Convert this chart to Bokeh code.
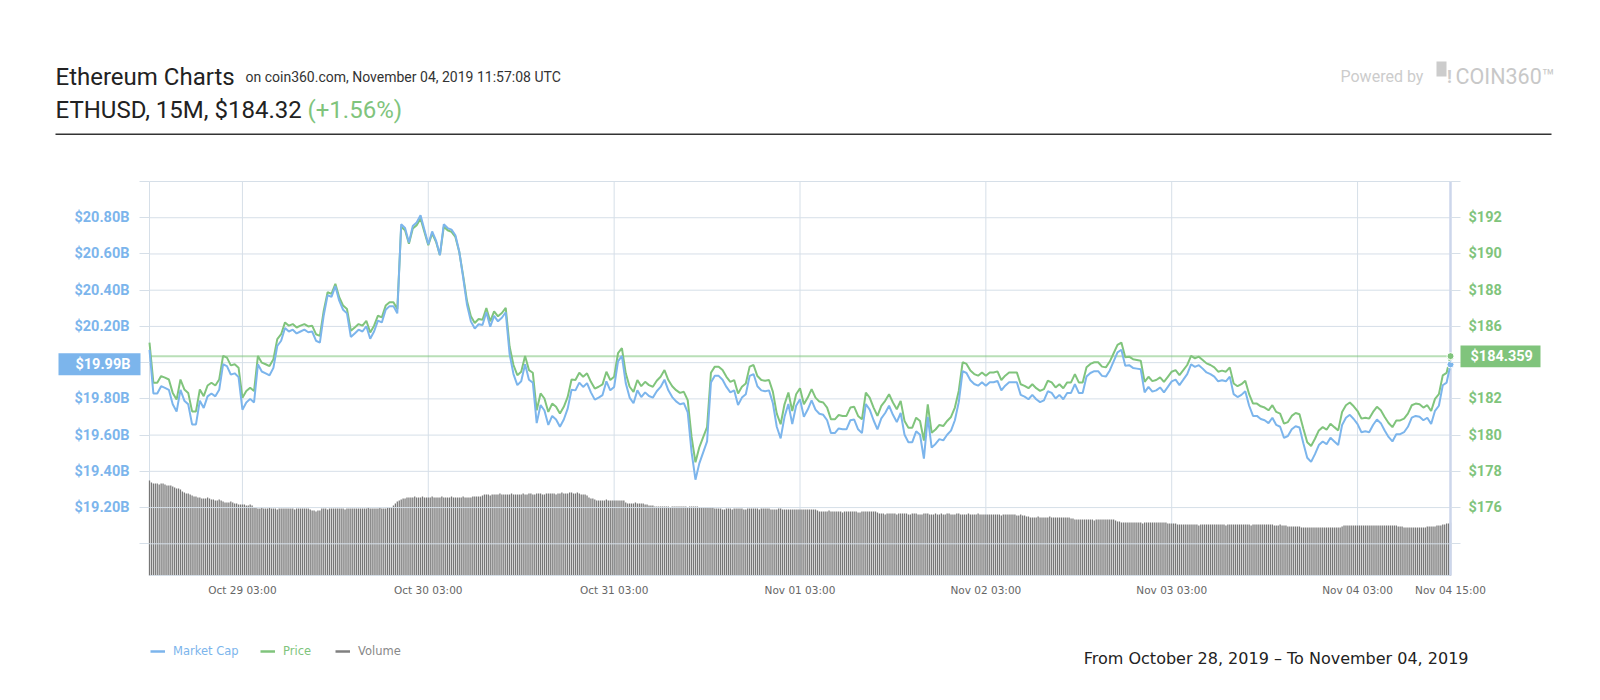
import pandas as pd
from bokeh.plotting import figure
from bokeh.models import (Range1d, LinearAxis, FixedTicker, CustomJSTickFormatter,
                          Label, Legend, LegendItem, BoxAnnotation)
from bokeh.embed import file_html
from bokeh.resources import INLINE

# ---------------- data ----------------
start_time = "2019-10-28 15:00"
end_time = "2019-11-04 15:00"

# price every 30 minutes, USD (right axis)
price = [
    185.11, 182.89, 182.89, 183.26, 183.17, 183.07, 182.33, 181.96, 183.07, 182.52, 182.33, 181.31,
    181.31, 182.52, 182.15, 182.74, 182.89, 182.74, 183.07, 184.37, 184.28, 183.85, 183.91, 183.72,
    182.06, 182.43, 182.61, 182.43, 184.37, 184.00, 183.91, 183.81, 184.19, 185.30, 185.57, 186.22,
    186.04, 186.13, 185.94, 186.04, 186.13, 186.00, 186.04, 185.57, 185.48, 186.87, 187.89, 187.80,
    188.35, 187.61, 187.15, 186.96, 185.76, 185.94, 186.13, 186.04, 186.31, 185.67, 186.04, 186.59,
    186.50, 187.15, 187.33, 187.33, 186.96, 191.50, 191.31, 190.57, 191.41, 191.59, 191.96, 191.22,
    190.48, 191.13, 190.67, 189.93, 191.50, 191.31, 191.22, 190.94, 190.11, 188.80, 187.40, 186.56,
    186.19, 186.41, 186.37, 187.02, 186.28, 186.83, 186.56, 186.74, 187.02, 184.89, 183.87, 183.31,
    183.50, 184.37, 183.59, 183.44, 181.37, 182.30, 182.02, 181.28, 181.74, 181.56, 181.19, 181.56,
    182.11, 183.07, 183.04, 183.44, 183.22, 183.41, 182.94, 182.57, 182.67, 182.80, 183.50, 183.04,
    183.22, 184.52, 184.80, 183.41, 182.67, 182.39, 183.04, 182.70, 182.94, 182.76, 182.67, 183.00,
    183.22, 183.59, 183.04, 182.70, 182.48, 182.33, 182.39, 181.93, 179.90, 178.50, 179.33, 179.89,
    180.44, 183.44, 183.78, 183.78, 183.59, 183.22, 182.94, 183.04, 182.30, 182.67, 182.85, 183.78,
    183.87, 183.26, 183.04, 183.00, 183.04, 182.39, 181.19, 180.60, 181.70, 182.35, 181.33, 182.26,
    182.59, 181.70, 182.07, 182.54, 182.07, 181.85, 181.80, 181.52, 180.87, 180.87, 181.11, 181.06,
    181.06, 181.52, 181.56, 181.06, 180.87, 182.35, 182.07, 181.52, 181.06, 181.61, 181.89, 182.26,
    181.80, 181.43, 181.89, 180.78, 180.41, 180.41, 180.96, 180.78, 179.70, 181.70, 180.13, 180.31,
    180.56, 180.50, 180.78, 181.00, 181.52, 182.44, 184.02, 183.93, 183.56, 183.37, 183.28, 183.46,
    183.28, 183.46, 183.46, 183.52, 183.04, 183.28, 183.46, 183.46, 183.46, 182.81, 182.72, 182.59,
    182.81, 182.59, 182.44, 182.54, 183.00, 182.91, 182.63, 182.81, 182.59, 182.91, 182.91, 183.37,
    182.91, 182.91, 183.74, 183.93, 184.02, 184.02, 183.78, 183.74, 184.06, 184.52, 184.98, 185.11,
    184.30, 184.33, 184.19, 184.15, 184.11, 182.94, 183.22, 182.98, 183.04, 183.19, 182.94, 183.22,
    183.50, 183.59, 183.31, 183.59, 183.87, 184.37, 184.24, 184.33, 184.15, 183.96, 183.87, 183.74,
    183.50, 183.56, 183.50, 183.74, 182.85, 182.70, 182.81, 183.00, 182.26, 181.74, 181.74, 181.59,
    181.52, 181.37, 181.65, 181.28, 181.19, 180.63, 180.72, 181.06, 181.22, 181.15, 180.35, 179.61,
    179.40, 179.80, 180.26, 180.44, 180.30, 180.63, 180.44, 180.26, 181.28, 181.65, 181.80, 181.59,
    181.33, 180.91, 180.96, 180.91, 181.28, 181.56, 181.37, 181.00, 180.67, 180.44, 180.81, 180.81,
    180.91, 181.19, 181.65, 181.74, 181.70, 181.52, 181.65, 181.33, 182.00, 182.26, 183.30, 183.44,
    184.36,
]

# market cap every 30 minutes, billions USD (left axis)
market_cap = [
    20.071, 19.830, 19.830, 19.870, 19.861, 19.850, 19.770, 19.730, 19.850, 19.790, 19.770, 19.659,
    19.659, 19.790, 19.750, 19.814, 19.830, 19.814, 19.850, 19.991, 19.981, 19.934, 19.941, 19.920,
    19.740, 19.780, 19.800, 19.780, 19.991, 19.951, 19.941, 19.930, 19.971, 20.092, 20.121, 20.191,
    20.172, 20.182, 20.161, 20.172, 20.182, 20.168, 20.172, 20.121, 20.111, 20.262, 20.373, 20.363,
    20.422, 20.342, 20.292, 20.272, 20.142, 20.161, 20.182, 20.172, 20.201, 20.132, 20.172, 20.232,
    20.222, 20.292, 20.312, 20.312, 20.272, 20.764, 20.743, 20.663, 20.754, 20.774, 20.814, 20.734,
    20.653, 20.724, 20.674, 20.594, 20.764, 20.743, 20.734, 20.703, 20.613, 20.471, 20.319, 20.228,
    20.188, 20.212, 20.208, 20.278, 20.198, 20.258, 20.228, 20.248, 20.278, 20.047, 19.937, 19.876,
    19.897, 19.991, 19.906, 19.890, 19.666, 19.766, 19.736, 19.656, 19.706, 19.686, 19.646, 19.686,
    19.746, 19.850, 19.847, 19.890, 19.866, 19.887, 19.836, 19.796, 19.807, 19.821, 19.897, 19.847,
    19.866, 20.007, 20.037, 19.887, 19.807, 19.776, 19.847, 19.810, 19.836, 19.816, 19.807, 19.842,
    19.866, 19.906, 19.847, 19.810, 19.786, 19.770, 19.776, 19.726, 19.506, 19.354, 19.444, 19.505,
    19.565, 19.890, 19.927, 19.927, 19.906, 19.866, 19.836, 19.847, 19.766, 19.807, 19.826, 19.927,
    19.937, 19.870, 19.847, 19.842, 19.847, 19.776, 19.646, 19.582, 19.701, 19.772, 19.661, 19.762,
    19.798, 19.701, 19.741, 19.792, 19.741, 19.718, 19.712, 19.682, 19.611, 19.611, 19.637, 19.632,
    19.632, 19.682, 19.686, 19.632, 19.611, 19.772, 19.741, 19.682, 19.632, 19.692, 19.722, 19.762,
    19.712, 19.672, 19.722, 19.602, 19.561, 19.561, 19.621, 19.602, 19.470, 19.701, 19.531, 19.551,
    19.578, 19.571, 19.602, 19.625, 19.682, 19.782, 19.953, 19.943, 19.903, 19.882, 19.873, 19.892,
    19.873, 19.892, 19.892, 19.899, 19.847, 19.873, 19.892, 19.892, 19.892, 19.822, 19.812, 19.798,
    19.822, 19.798, 19.782, 19.792, 19.842, 19.833, 19.802, 19.822, 19.798, 19.833, 19.833, 19.882,
    19.833, 19.833, 19.923, 19.943, 19.953, 19.953, 19.927, 19.923, 19.957, 20.007, 20.057, 20.071,
    19.983, 19.986, 19.971, 19.967, 19.963, 19.836, 19.866, 19.840, 19.847, 19.863, 19.836, 19.866,
    19.897, 19.906, 19.876, 19.906, 19.937, 19.991, 19.977, 19.986, 19.967, 19.946, 19.937, 19.923,
    19.897, 19.903, 19.897, 19.923, 19.826, 19.810, 19.822, 19.842, 19.762, 19.706, 19.706, 19.689,
    19.682, 19.666, 19.696, 19.656, 19.646, 19.585, 19.595, 19.632, 19.649, 19.642, 19.555, 19.475,
    19.452, 19.495, 19.545, 19.565, 19.550, 19.585, 19.565, 19.545, 19.656, 19.696, 19.712, 19.689,
    19.661, 19.616, 19.621, 19.616, 19.656, 19.686, 19.666, 19.625, 19.590, 19.565, 19.605, 19.605,
    19.616, 19.646, 19.696, 19.706, 19.701, 19.682, 19.696, 19.661, 19.734, 19.762, 19.875, 19.890,
    19.990,
]

# 15-minute volume (relative units, no axis shown)
volume = [
    95, 93, 92, 92, 92, 91, 92, 92, 91, 90, 90, 90, 89, 88, 87, 87, 86, 84, 83, 82, 82, 81, 80, 79,
    79, 78, 78, 77, 77, 77, 78, 77, 76, 76, 75, 75, 76, 75, 74, 73, 73, 73, 74, 73, 72, 72, 71, 71,
    71, 71, 70, 70, 71, 70, 68, 68, 67, 67, 68, 67, 67, 67, 68, 67, 67, 67, 66, 67, 67, 67, 67, 67,
    67, 67, 67, 66, 67, 67, 67, 67, 67, 67, 67, 66, 65, 65, 64, 65, 65, 67, 67, 67, 66, 67, 67, 67,
    67, 67, 67, 67, 67, 66, 67, 67, 67, 67, 67, 67, 67, 67, 67, 67, 67, 68, 67, 67, 67, 67, 67, 68,
    67, 67, 67, 68, 68, 68, 70, 72, 74, 75, 76, 77, 77, 78, 78, 78, 78, 79, 78, 78, 78, 79, 78, 78,
    78, 78, 79, 78, 78, 78, 78, 79, 78, 78, 78, 78, 79, 78, 78, 78, 78, 78, 79, 78, 78, 78, 78, 79,
    79, 79, 79, 79, 80, 81, 81, 81, 80, 81, 81, 81, 81, 82, 81, 81, 81, 81, 81, 82, 81, 81, 81, 81,
    81, 82, 81, 81, 82, 82, 81, 81, 82, 82, 82, 81, 81, 82, 82, 82, 82, 82, 81, 82, 82, 83, 82, 82,
    82, 83, 83, 82, 82, 83, 82, 81, 81, 81, 80, 78, 77, 77, 76, 75, 75, 75, 75, 75, 76, 75, 75, 75,
    75, 75, 75, 75, 75, 75, 73, 72, 72, 72, 72, 73, 72, 72, 72, 72, 71, 71, 70, 70, 70, 69, 69, 69,
    69, 69, 69, 69, 69, 68, 69, 69, 69, 69, 69, 69, 69, 69, 68, 69, 69, 69, 69, 69, 68, 68, 68, 68,
    68, 68, 68, 68, 67, 67, 67, 67, 66, 66, 67, 67, 67, 66, 67, 67, 67, 67, 67, 66, 66, 67, 67, 67,
    67, 67, 67, 66, 67, 67, 67, 67, 67, 66, 66, 66, 66, 67, 67, 66, 66, 66, 66, 66, 66, 66, 66, 66,
    66, 66, 66, 66, 66, 66, 66, 66, 66, 65, 64, 64, 64, 64, 64, 65, 64, 64, 64, 64, 64, 64, 63, 64,
    64, 64, 64, 64, 64, 64, 63, 63, 64, 64, 64, 64, 64, 64, 64, 64, 63, 62, 62, 62, 61, 62, 62, 62,
    62, 62, 61, 62, 62, 62, 62, 62, 61, 61, 62, 62, 62, 61, 61, 61, 62, 62, 62, 61, 61, 61, 62, 61,
    61, 62, 61, 61, 62, 62, 61, 61, 61, 62, 62, 61, 61, 61, 61, 62, 61, 61, 61, 61, 62, 61, 61, 61,
    61, 61, 61, 61, 61, 61, 61, 61, 60, 61, 61, 61, 61, 61, 61, 61, 60, 60, 61, 60, 60, 59, 59, 58,
    58, 58, 58, 59, 58, 58, 58, 58, 58, 59, 58, 58, 58, 58, 58, 58, 58, 58, 58, 58, 57, 57, 56, 56,
    56, 56, 56, 56, 56, 56, 56, 56, 55, 56, 56, 56, 56, 56, 56, 56, 56, 56, 56, 55, 54, 54, 53, 53,
    53, 53, 53, 53, 53, 53, 53, 53, 53, 52, 53, 53, 53, 53, 53, 53, 53, 53, 53, 53, 53, 53, 52, 52,
    52, 52, 52, 51, 51, 51, 51, 51, 51, 51, 51, 51, 51, 51, 50, 51, 51, 51, 51, 51, 51, 51, 51, 51,
    51, 51, 51, 51, 50, 51, 51, 51, 51, 51, 51, 51, 51, 51, 51, 51, 51, 50, 51, 51, 51, 51, 51, 51,
    51, 51, 51, 51, 51, 50, 50, 50, 51, 50, 50, 50, 49, 49, 49, 49, 49, 49, 49, 48, 48, 48, 48, 48,
    48, 48, 48, 48, 48, 48, 48, 48, 48, 48, 48, 48, 48, 48, 48, 48, 49, 50, 50, 50, 50, 50, 50, 50,
    50, 50, 50, 50, 50, 50, 50, 50, 50, 50, 50, 50, 50, 50, 50, 50, 50, 50, 50, 50, 50, 49, 49, 49,
    48, 48, 48, 48, 48, 48, 48, 48, 48, 48, 48, 48, 49, 49, 49, 49, 49, 50, 50, 50, 51, 51, 52, 52,
    53,
]

current_price = 184.359
current_mcap = 19.99

x_ticks = ["2019-10-29 03:00", "2019-10-30 03:00", "2019-10-31 03:00", "2019-11-01 03:00",
           "2019-11-02 03:00", "2019-11-03 03:00", "2019-11-04 03:00", "2019-11-04 15:00"]
mcap_ticks = [19.0, 19.2, 19.4, 19.6, 19.8, 20.0, 20.2, 20.4, 20.6, 20.8, 21.0]
price_ticks = [174, 176, 178, 180, 182, 184, 186, 188, 190, 192, 194]

# ---------------- layout / styling ----------------
BLUE = "#7cb5ec"
GREEN = "#80c47c"
GRID = "#d6dfe8"
VOL = "#777777"
DARK = "#222222"

CW, CH = 1584, 684                 # canvas (the frame covers all of it)
PX_L, PX_R = 149, 1450             # chart area, canvas pixels
PY_T, PY_B = 181, 575
MC_LO, MC_HI = 18.825, 21.0        # market cap range of the chart area
PR_LO, PR_HI = 172.25, 194.0       # price range of the chart area
VOL_LO, VOL_HI = 0, 394            # volume range of the chart area


def outer_range(lo, hi, px_lo, px_hi, total, flip=False):
    """Range of the whole canvas so that [lo, hi] lands on pixels [px_lo, px_hi]."""
    per = (hi - lo) / (px_hi - px_lo)
    if flip:  # vertical: pixel grows downward
        return Range1d(lo - (total - px_hi) * per, hi + px_lo * per)
    return Range1d(lo - px_lo * per, hi + (total - px_hi) * per)


t0 = pd.Timestamp(start_time).value // 10**6
t1 = pd.Timestamp(end_time).value // 10**6
xt_ms = [pd.Timestamp(t).value // 10**6 for t in x_ticks]

p = figure(x_axis_type=None, y_axis_type=None,
           x_range=outer_range(t0, t1, PX_L, PX_R, CW),
           y_range=outer_range(MC_LO, MC_HI, PY_T, PY_B, CH, flip=True),
           frame_width=CW, frame_height=CH,
           min_border_left=0, min_border_right=0, min_border_top=0, min_border_bottom=0,
           output_backend="svg", toolbar_location=None, outline_line_color=None,
           background_fill_color="white", border_fill_color="white")
p.extra_y_ranges = {"price": outer_range(PR_LO, PR_HI, PY_T, PY_B, CH, flip=True),
                    "vol": outer_range(VOL_LO, VOL_HI, PY_T, PY_B, CH, flip=True)}

t_line = pd.date_range(start_time, periods=len(price), freq="30min")
t_vol = pd.date_range(start_time, periods=len(volume), freq="15min")

# vertical grid lines (under the volume bars)
vx = [t0] + xt_ms[:-1]
p.segment(x0=vx, x1=vx, y0=[MC_LO] * len(vx), y1=[MC_HI] * len(vx), line_color=GRID, line_width=1)

# volume
p.vbar(x=t_vol, top=volume, bottom=0, width=15 * 60 * 1000 * 0.66,
       y_range_name="vol", fill_color=VOL, line_color=None)

# horizontal grid lines (over the bars)
hy = [MC_LO] + mcap_ticks
p.segment(x0=[t0] * len(hy), x1=[t1] * len(hy), y0=hy, y1=hy, line_color=GRID, line_width=1)
# crosshair at the last point
p.segment(x0=[t1], x1=[t1], y0=[MC_LO], y1=[MC_HI], line_color="#ccd6eb", line_width=2.5)
# current price line
p.segment(x0=[t0], x1=[t1], y0=[current_price], y1=[current_price], y_range_name="price",
          line_color=GREEN, line_alpha=0.55, line_width=2)

p.line(t_line, price, y_range_name="price", line_color=GREEN, line_width=2)
p.line(t_line, market_cap, line_color=BLUE, line_width=2)

p.scatter(x=[t_line[-1]], y=[price[-1]], y_range_name="price", size=7,
          fill_color=GREEN, line_color="white", line_width=1)
p.scatter(x=[t_line[-1]], y=[market_cap[-1]], size=7,
          fill_color=BLUE, line_color="white", line_width=1)

# legend proxies (nothing drawn in the chart)
nan = float("nan")
leg_mcap = p.line(x=[t0], y=[nan], line_color=BLUE, line_width=2.5)
leg_price = p.line(x=[t0], y=[nan], line_color=GREEN, line_width=2.5)
leg_vol = p.line(x=[t0], y=[nan], line_color="#808080", line_width=2.5)

# axes, pinned to the edges of the chart area
yl = LinearAxis(ticker=FixedTicker(ticks=mcap_ticks), fixed_location=t0,
                formatter=CustomJSTickFormatter(
                    code="if (tick < 19.1 || tick > 20.9 || Math.abs(tick - 20.0) < 0.01) return '';"
                         " return '$' + tick.toFixed(2) + 'B';"))
yr = LinearAxis(y_range_name="price", ticker=FixedTicker(ticks=price_ticks), fixed_location=t1,
                formatter=CustomJSTickFormatter(
                    code="if (tick < 175 || tick > 193 || Math.abs(tick - 184) < 0.1) return '';"
                         " return '$' + tick.toFixed(0);"))
p.add_layout(yl, "left")
p.add_layout(yr, "right")
for ax, col, so in [(yl, BLUE, 10), (yr, GREEN, 8)]:
    ax.axis_line_color = None
    ax.major_tick_in = 0
    ax.major_tick_out = 10
    ax.minor_tick_in = 0
    ax.minor_tick_out = 0
    ax.major_tick_line_color = GRID
    ax.minor_tick_line_color = None
    ax.major_label_standoff = so
    ax.major_label_text_font = "Roboto"
    ax.major_label_text_font_style = "bold"
    ax.major_label_text_font_size = "14.5px"
    ax.major_label_text_color = col

xa = LinearAxis(ticker=FixedTicker(ticks=xt_ms), fixed_location=MC_LO,
                formatter=CustomJSTickFormatter(code="""
const M = ["Jan","Feb","Mar","Apr","May","Jun","Jul","Aug","Sep","Oct","Nov","Dec"];
const d = new Date(tick);
const z = (n) => String(n).padStart(2, "0");
return M[d.getUTCMonth()] + " " + z(d.getUTCDate()) + " " + z(d.getUTCHours()) + ":" + z(d.getUTCMinutes());
"""))
p.add_layout(xa, "below")
xa.axis_line_color = None
xa.major_tick_line_color = None
xa.minor_tick_line_color = None
xa.major_tick_in = 0
xa.major_tick_out = 0
xa.minor_tick_in = 0
xa.minor_tick_out = 0
xa.major_label_standoff = 8
xa.major_label_text_font = "DejaVu Sans"
xa.major_label_text_font_size = "10.5px"
xa.major_label_text_color = "#666666"


def lab(px, py, text, **kw):
    opts = dict(x=px, y=CH - py, x_units="screen", y_units="screen", text=text,
                text_baseline="alphabetic", text_font="Roboto")
    opts.update(kw)
    p.add_layout(Label(**opts))


def box(left, right, top, bottom, color):
    p.add_layout(BoxAnnotation(left=left, right=right, top=CH - top, bottom=CH - bottom,
                               left_units="screen", right_units="screen",
                               top_units="screen", bottom_units="screen",
                               fill_color=color, fill_alpha=1, line_color=None))


# header
lab(55, 76.7, "Ethereum Charts", text_font_size="24px", text_color=DARK)
lab(245, 76.7, "on coin360.com, November 04, 2019 11:57:08 UTC", text_font_size="14px",
    text_color="#333333")
lab(55, 109, "ETHUSD, 15M, $184.32", text_font_size="24px", text_color=DARK)
lab(307, 109, "(+1.56%)", text_font_size="24px", text_color=GREEN)
lab(1340, 76, "Powered by", text_font_size="16px", text_color="#cccccc")
box(1436, 1446, 61, 76, "#cccccc")
lab(1446.5, 76, "!", text_font_size="18px", text_font_style="bold", text_color="#cccccc")
lab(1455, 76, "COIN360\u2122", text_font_size="21.5px", text_color="#c8c8c8")
box(55, 1551, 133, 134.5, "#333333")

# value boxes on the axes
box(58, 140, 352.7, 374.7, BLUE)
lab(130, 363.7, f"${current_mcap:.2f}B", text_align="right", text_baseline="middle",
    text_font_size="14.5px", text_font_style="bold", text_color="white")
box(1460, 1540, 345, 366.7, GREEN)
lab(1470, 355.8, f"${current_price:.3f}", text_align="left", text_baseline="middle",
    text_font_size="14.5px", text_font_style="bold", text_color="white")

# legend
for r, name, col, gx, tx in [(leg_mcap, "Market Cap", BLUE, 150, 173),
                              (leg_price, "Price", GREEN, 260, 283),
                              (leg_vol, "Volume", "#888888", 335, 358)]:
    lg = Legend(items=[LegendItem(label=name, renderers=[r])],
                location=(gx, CH - 650.7 - 7), orientation="horizontal",
                glyph_width=15, glyph_height=14, label_height=14, label_standoff=tx - gx - 15,
                padding=0, margin=0, spacing=0, border_line_color=None,
                background_fill_alpha=0, label_text_color=col,
                label_text_font="DejaVu Sans", label_text_font_size="11.5px")
    p.add_layout(lg, "center")

lab(1468, 658.3, "From October 28, 2019 \u2013 To November 04, 2019", text_align="right",
    text_font="DejaVu Sans", text_font_size="16px", text_color=DARK)

open("out.html", "w").write(file_html(p, INLINE))
